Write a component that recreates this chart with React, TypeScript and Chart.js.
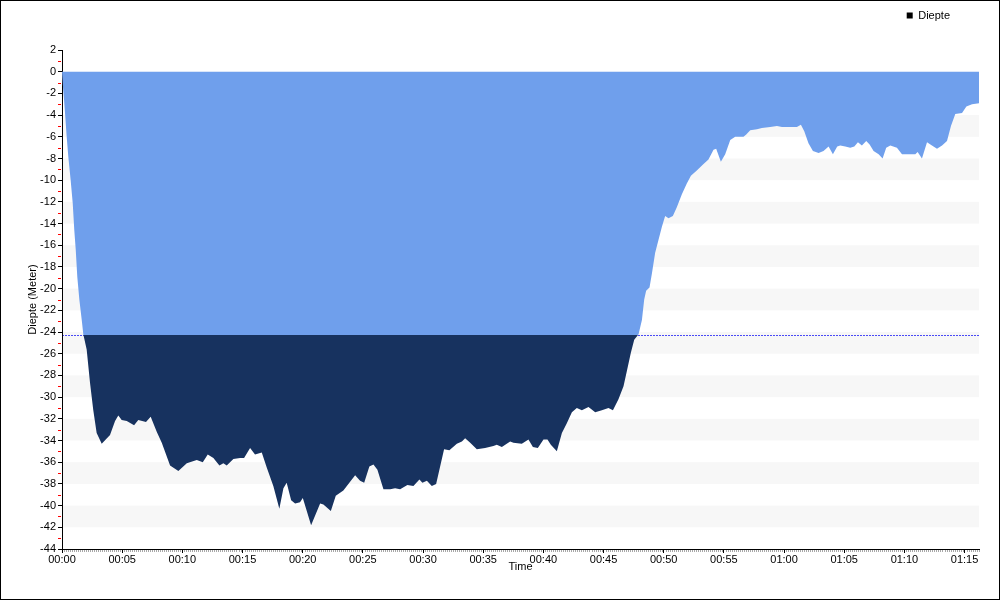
import React, { useEffect, useRef } from 'react';
import { Chart, registerables } from 'chart.js';

Chart.register(...registerables);

// Dive profile: elapsed time (minutes) and depth (meters)
const TIME_MIN = [
  0, 0.06, 0.17, 0.27, 0.39, 0.52, 0.72, 0.89, 1.02, 1.14,
  1.27, 1.44, 1.64, 1.77, 2.05, 2.33, 2.6, 2.88, 3.3, 3.99,
  4.41, 4.68, 4.96, 5.38, 5.99, 6.34, 6.98, 7.37, 7.87, 8.29,
  8.98, 9.67, 10.37, 11.2, 11.7, 12.11, 12.58, 13.08, 13.41, 13.69,
  14.24, 14.8, 15.13, 15.63, 16.04, 16.6, 17.02, 17.56, 18.06, 18.4,
  18.67, 19.04, 19.37, 19.78, 20.01, 20.7, 21.45, 21.72, 22.34, 22.75,
  23.38, 24.36, 24.77, 25.11, 25.54, 25.88, 26.21, 26.71, 27.27, 27.68,
  28.1, 28.7, 29.2, 29.7, 29.95, 30.32, 30.73, 31.09, 31.75, 32.19,
  32.81, 33.23, 33.5, 33.92, 34.47, 35.16, 35.85, 36.13, 36.55, 37.24,
  37.51, 38.21, 38.76, 39.13, 39.54, 40.01, 40.34, 40.62, 41.12, 41.54,
  41.95, 42.37, 42.78, 43.2, 43.75, 44.31, 44.86, 45.41, 45.78, 46.24,
  46.66, 46.94, 47.27, 47.55, 47.91, 48.19, 48.38, 48.54, 48.82, 49.02,
  49.29, 49.57, 49.85, 50.12, 50.4, 50.76, 51.09, 51.51, 51.92, 52.26,
  52.75, 53.31, 53.72, 54.14, 54.36, 54.75, 55.11, 55.53, 55.94, 56.63,
  56.86, 57.19, 57.75, 58.16, 58.85, 59.41, 59.83, 60.52, 61.07, 61.4,
  61.68, 62.03, 62.4, 62.87, 63.28, 63.7, 64.06, 64.42, 64.67, 65.09,
  65.5, 65.84, 66.14, 66.47, 66.83, 67.11, 67.44, 67.86, 68.19, 68.49,
  68.83, 69.38, 69.8, 70.49, 70.91, 71.1, 71.46, 71.88, 72.29, 72.71,
  73.13, 73.54, 73.87, 74.23, 74.79, 75.15, 75.62, 76.2,
];

const DEPTH_M = [
  0, -1.05, -2.6, -4.1, -6.0, -7.8, -10.0, -12.1, -14.6, -16.4,
  -18.9, -21.0, -22.9, -24.2, -25.6, -28.7, -31.2, -33.3, -34.3, -33.5,
  -32.2, -31.7, -32.1, -32.2, -32.6, -32.1, -32.3, -31.8, -33.2, -34.2,
  -36.3, -36.8, -36.1, -35.8, -36.0, -35.3, -35.6, -36.3, -36.1, -36.3,
  -35.7, -35.6, -35.6, -34.7, -35.3, -35.1, -36.5, -38.2, -40.3, -38.4,
  -37.9, -39.5, -39.8, -39.7, -39.3, -41.8, -39.8, -39.9, -40.5, -39.1,
  -38.6, -37.2, -37.7, -37.9, -36.4, -36.2, -36.7, -38.5, -38.5, -38.4,
  -38.5, -38.1, -38.2, -37.6, -37.9, -37.7, -38.2, -38.0, -34.8, -34.9,
  -34.3, -34.1, -33.8, -34.2, -34.8, -34.7, -34.5, -34.4, -34.6, -34.1,
  -34.2, -34.3, -33.9, -34.6, -34.7, -33.9, -33.9, -34.4, -35.0, -33.3,
  -32.4, -31.4, -31.0, -31.2, -30.9, -31.4, -31.2, -31.0, -31.2, -30.2,
  -29.0, -27.6, -25.9, -24.7, -24.2, -22.9, -21.0, -20.2, -19.9, -18.6,
  -16.7, -15.5, -14.3, -13.3, -13.5, -13.3, -12.5, -11.3, -10.3, -9.6,
  -9.1, -8.5, -8.1, -7.2, -7.1, -8.3, -7.6, -6.3, -6.0, -6.0,
  -5.8, -5.4, -5.3, -5.2, -5.1, -5.0, -5.1, -5.1, -5.1, -4.9,
  -5.5, -6.6, -7.3, -7.5, -7.3, -6.9, -7.6, -6.9, -6.8, -6.9,
  -7.0, -6.9, -6.5, -6.8, -6.4, -6.7, -7.3, -7.6, -8.0, -7.0,
  -6.8, -7.0, -7.6, -7.6, -7.6, -7.4, -8.0, -6.5, -6.8, -7.1,
  -6.8, -6.4, -5.0, -3.9, -3.8, -3.2, -3.0, -2.9,
];

const REFERENCE_DEPTH = -24.25;
const SERIES_LABEL = 'Diepte';
const X_TITLE = 'Time';
const Y_TITLE = 'Diepte (Meter)';
const X_MIN = 0;
const X_MAX = 76.2;
const X_STEP = 5;
const Y_MIN = -44;
const Y_MAX = 2;
const Y_STEP = 2;

const FONT = '"Liberation Sans", Arial, sans-serif';
const LIGHT = '#6f9fec';
const DARK = '#17325f';

function fmtTime(v: number): string {
  const total = Math.round(v);
  const h = Math.floor(total / 60);
  const m = total % 60;
  return `${String(h).padStart(2, '0')}:${String(m).padStart(2, '0')}`;
}

const decorPlugin = {
  id: 'decor',
  beforeDraw(chart: any) {
    const { ctx, chartArea: a, scales } = chart;
    const y = scales.y;
    ctx.save();
    ctx.fillStyle = '#f7f7f7';
    for (let v = 0; v > Y_MIN; v -= 2 * Y_STEP) {
      const t = y.getPixelForValue(v);
      const b = y.getPixelForValue(v - Y_STEP);
      ctx.fillRect(a.left, t, a.right - a.left, b - t);
    }
    const ty = Math.round(y.getPixelForValue(REFERENCE_DEPTH)) + 0.5;
    ctx.strokeStyle = '#4b4bf5';
    ctx.lineWidth = 1;
    ctx.setLineDash([2, 1]);
    ctx.beginPath();
    ctx.moveTo(a.left, ty);
    ctx.lineTo(a.right, ty);
    ctx.stroke();
    ctx.restore();
  },
  afterDraw(chart: any) {
    const { ctx, chartArea: a, scales } = chart;
    const x = scales.x;
    const y = scales.y;
    ctx.save();
    ctx.lineWidth = 1;
    ctx.strokeStyle = '#a8a8a8';
    for (let i = 1; i / 6 <= X_MAX; i++) {
      if (i % 30 === 0) continue;
      const px = Math.round(x.getPixelForValue(i / 6)) + 0.5;
      ctx.beginPath();
      ctx.moveTo(px, a.bottom + 1);
      ctx.lineTo(px, a.bottom + 3);
      ctx.stroke();
    }
    ctx.strokeStyle = '#ff0000';
    for (let v = Y_MAX - 1; v > Y_MIN; v -= Y_STEP) {
      const py = Math.round(y.getPixelForValue(v)) + 0.5;
      ctx.beginPath();
      ctx.moveTo(a.left - 4, py);
      ctx.lineTo(a.left - 1, py);
      ctx.stroke();
    }
    ctx.restore();
  },
};

export default function App() {
  const canvasRef = useRef<HTMLCanvasElement | null>(null);

  useEffect(() => {
    const canvas = canvasRef.current;
    if (!canvas) return;
    const points = TIME_MIN.map((t, i) => ({ x: t, y: DEPTH_M[i] }));
    const font = { family: FONT, size: 11 };

    const chart = new Chart(canvas, {
      type: 'line',
      data: {
        datasets: [
          {
            label: SERIES_LABEL,
            data: points,
            fill: 'origin',
            borderWidth: 0,
            borderColor: 'rgba(0,0,0,0)',
            pointRadius: 0,
            tension: 0,
            backgroundColor: (context: any) => {
              const c = context.chart;
              const area = c.chartArea;
              if (!area) return LIGHT;
              const yT = c.scales.y.getPixelForValue(REFERENCE_DEPTH);
              const g = c.ctx.createLinearGradient(0, area.top, 0, area.bottom);
              const f = Math.min(1, Math.max(0, (yT - area.top) / (area.bottom - area.top)));
              g.addColorStop(0, LIGHT);
              g.addColorStop(f, LIGHT);
              g.addColorStop(f, DARK);
              g.addColorStop(1, DARK);
              return g;
            },
          },
        ],
      },
      options: {
        responsive: false,
        animation: false,
        events: [],
        layout: { padding: { top: -20, right: 20, bottom: 0, left: 0 } },
        plugins: {
          tooltip: { enabled: false },
          title: {
            display: true,
            text: '',
            weight: 500,
            font: { size: 5 },
            padding: { top: 0, bottom: 13 },
          },
          legend: {
            display: true,
            position: 'top',
            align: 'end',
            labels: {
              boxWidth: 6,
              boxHeight: 6,
              padding: 29,
              color: '#000',
              font,
              generateLabels: () => [
                {
                  text: SERIES_LABEL,
                  fillStyle: '#000',
                  strokeStyle: '#000',
                  lineWidth: 0,
                  hidden: false,
                  datasetIndex: 0,
                },
              ],
            },
          },
        },
        scales: {
          x: {
            type: 'linear',
            min: X_MIN,
            max: X_MAX,
            afterFit: (s: any) => {
              s.height = 50;
            },
            ticks: {
              stepSize: X_STEP,
              includeBounds: false,
              autoSkip: false,
              maxRotation: 0,
              padding: 0,
              color: '#000',
              font,
              callback: (v: any) => fmtTime(Number(v)),
            },
            grid: {
              display: true,
              drawOnChartArea: false,
              drawTicks: true,
              tickLength: 4,
              color: '#000',
              tickColor: '#000',
            },
            border: { display: true, color: '#000' },
            title: {
              display: true,
              text: X_TITLE,
              color: '#000',
              font,
              padding: { top: 0, bottom: 25 },
            },
          },
          y: {
            type: 'linear',
            min: Y_MIN,
            max: Y_MAX,
            afterFit: (s: any) => {
              s.width = 61;
            },
            ticks: {
              stepSize: Y_STEP,
              autoSkip: false,
              padding: 2,
              color: '#000',
              font,
            },
            grid: {
              display: true,
              drawOnChartArea: false,
              drawTicks: true,
              tickLength: 4,
              color: '#000',
              tickColor: '#000',
            },
            border: { display: true, color: '#000' },
            title: {
              display: true,
              text: Y_TITLE,
              color: '#000',
              font,
              padding: { top: 25, bottom: 0 },
            },
          },
        },
      } as any,
      plugins: [decorPlugin],
    });

    return () => chart.destroy();
  }, []);

  return (
    <div
      style={{
        position: 'fixed',
        left: 0,
        top: 0,
        width: 1000,
        height: 600,
        boxSizing: 'border-box',
        border: '1px solid #000',
        background: '#fff',
      }}
    >
      <canvas ref={canvasRef} width={998} height={598} style={{ display: 'block' }} />
    </div>
  );
}
